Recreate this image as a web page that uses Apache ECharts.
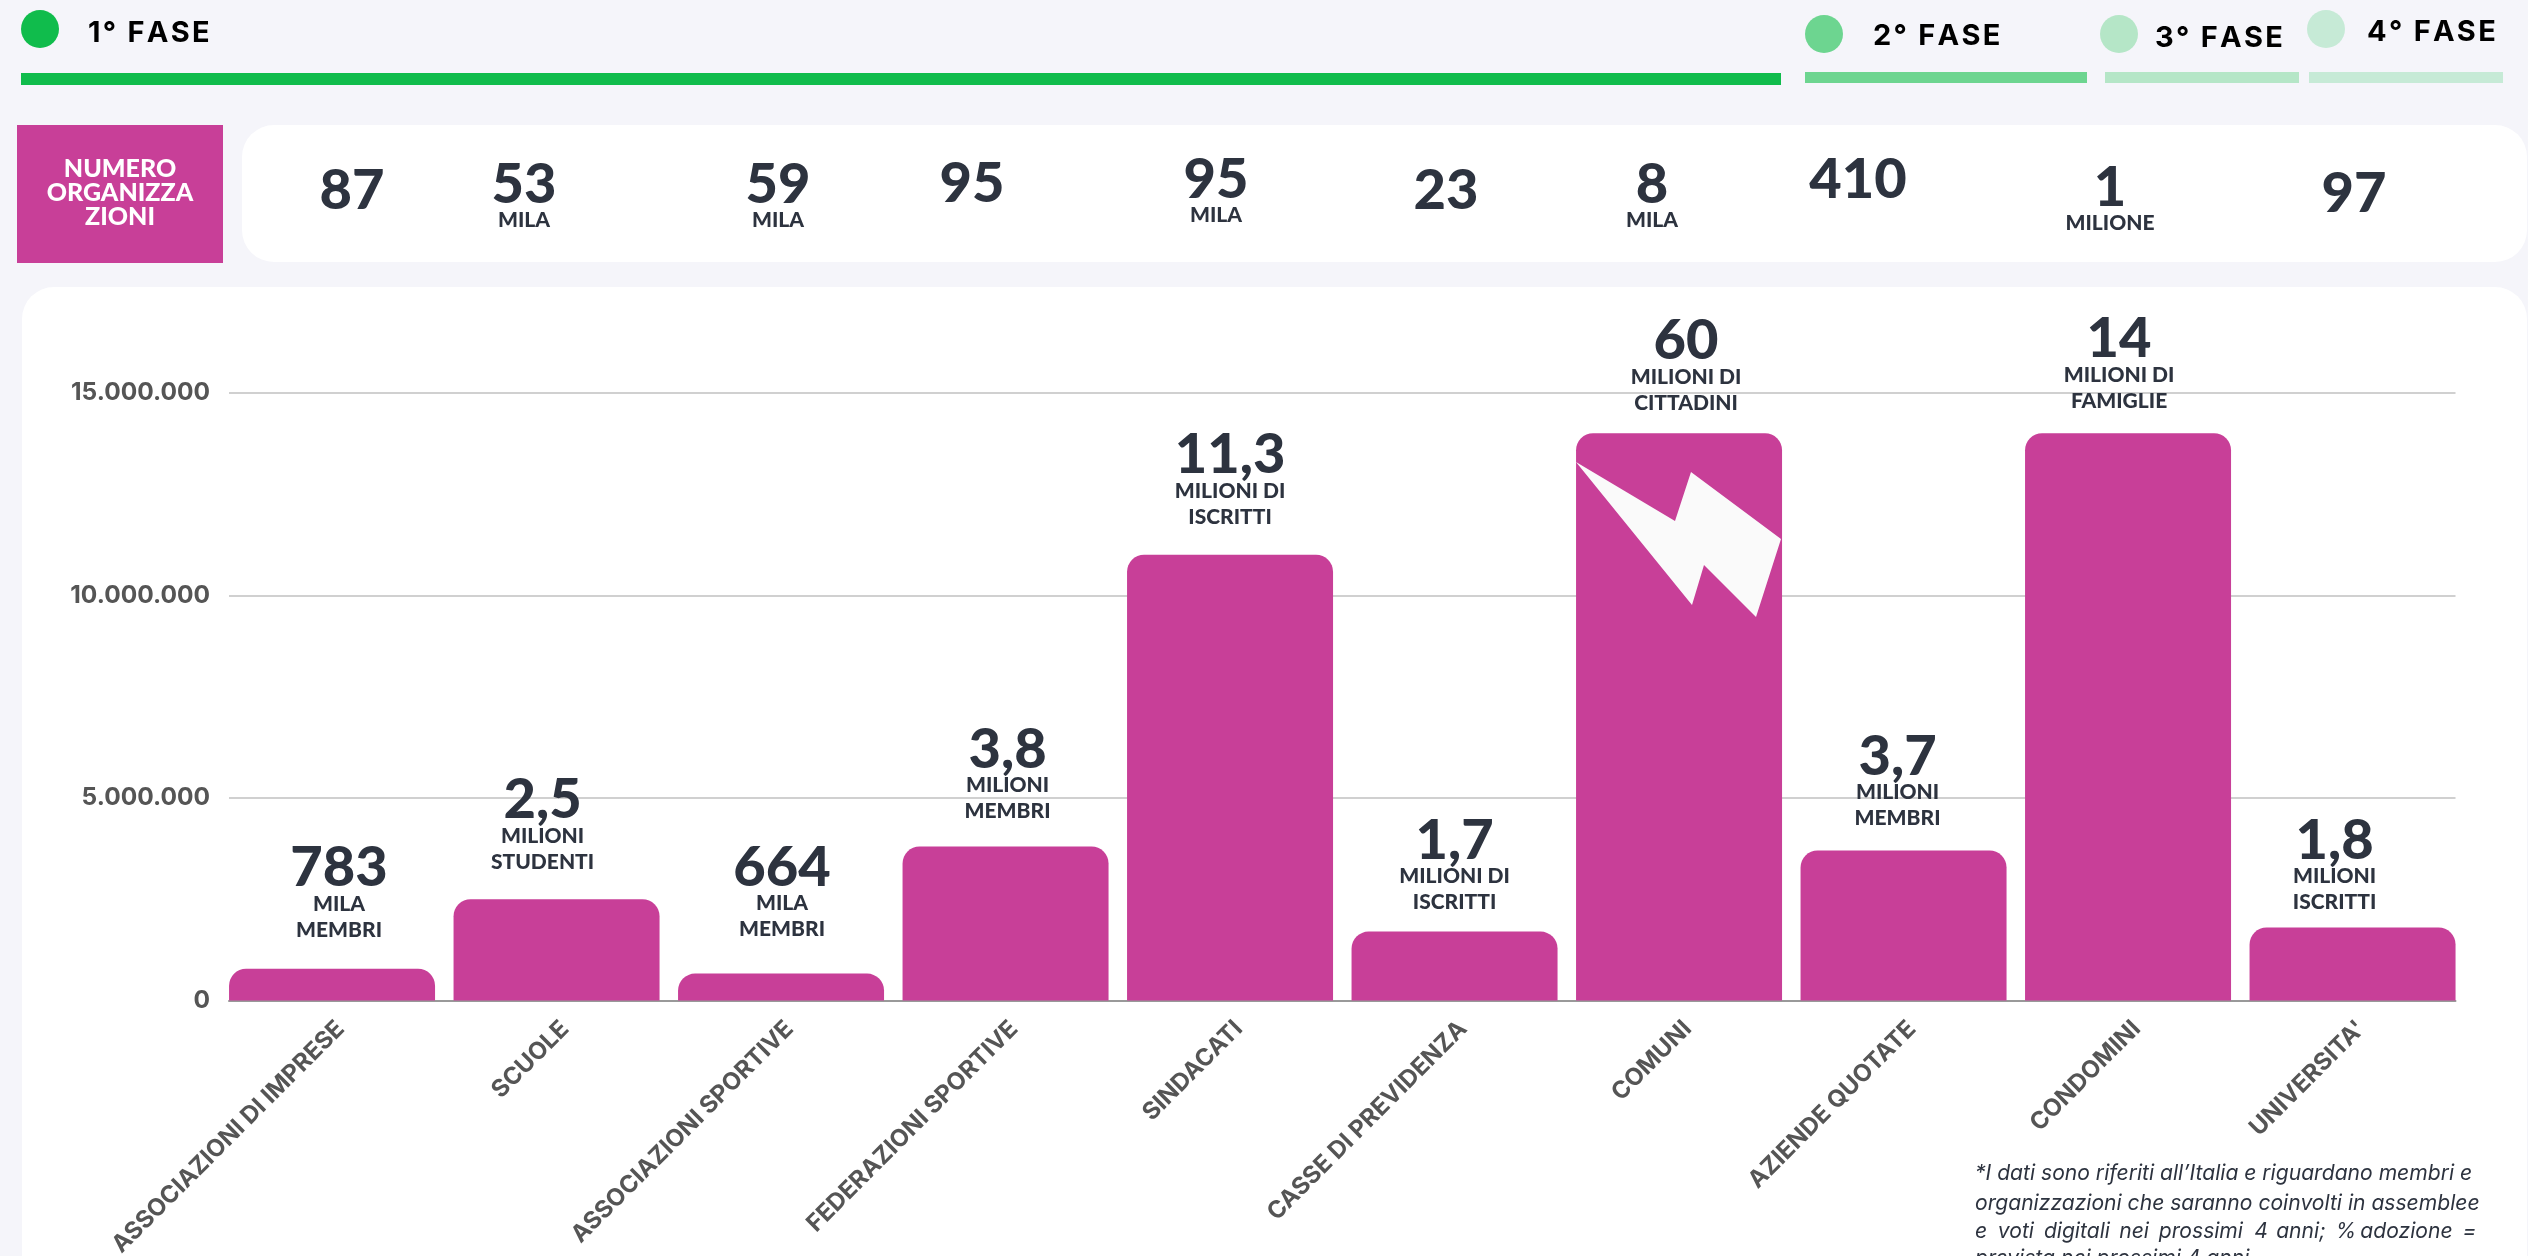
<!DOCTYPE html>
<html>
<head>
<meta charset="utf-8">
<style>
	html, body { margin: 0; padding: 0; background: #f5f5fa; overflow: hidden; }
	#chart { width: 2528px; height: 1256px; }
</style>
<script src="https://cdn.jsdelivr.net/npm/echarts@6/dist/echarts.min.js"></script>
</head>
<body>
<div id="chart"></div>
<script>
const categories = ['ASSOCIAZIONI DI IMPRESE', 'SCUOLE', 'ASSOCIAZIONI SPORTIVE', 'FEDERAZIONI SPORTIVE', 'SINDACATI', 'CASSE DI PREVIDENZA', 'COMUNI', 'AZIENDE QUOTATE', 'CONDOMINI', "UNIVERSITA'"]
const members = [783000, 2500000, 664000, 3800000, 11000000, 1700000, 14000000, 3700000, 14000000, 1800000]
const memberNumbers = ['783', '2,5', '664', '3,8', '11,3', '1,7', '60', '3,7', '14', '1,8']
const memberUnits = [['MILA', 'MEMBRI'], ['MILIONI', 'STUDENTI'], ['MILA', 'MEMBRI'], ['MILIONI', 'MEMBRI'], ['MILIONI DI', 'ISCRITTI'], ['MILIONI DI', 'ISCRITTI'], ['MILIONI DI', 'CITTADINI'], ['MILIONI', 'MEMBRI'], ['MILIONI DI', 'FAMIGLIE'], ['MILIONI', 'ISCRITTI']]
const orgNumbers = ['87', '53', '59', '95', '95', '23', '8', '410', '1', '97']
const orgUnits = ['', 'MILA', 'MILA', '', 'MILA', '', 'MILA', '', 'MILIONE', '']
const phases = ['1° FASE', '2° FASE', '3° FASE', '4° FASE']
const orgTitle = ['NUMERO', 'ORGANIZZA', 'ZIONI']
const footnote = ['*I dati sono riferiti all’Italia e riguardano membri e', 'organizzazioni che saranno coinvolti in assemblee', 'e voti digitali nei prossimi 4 anni; % adozione =', 'prevista nei prossimi 4 anni']

// layout
const labelOffsets = [[7, -26], [-14, -24], [1, -31], [2, -22], [0, -25], [0, -16], [7, -17], [-6, -19], [-9, -19], [-18, -12]]
const phaseLayout = [
	{ color: '#10bc4c', dot: [40, 29], text: [88, 33], bar: [21, 73, 1760, 12] },
	{ color: '#6dd590', dot: [1824, 34], text: [1873, 36], bar: [1805, 72, 282, 11] },
	{ color: '#b5e6c7', dot: [2119, 34], text: [2155, 38], bar: [2105, 72, 194, 11] },
	{ color: '#c6ead6', dot: [2326, 29], text: [2367, 32], bar: [2309, 72, 194, 11] },
]
const orgLayout = [[352, 191], [524, 185], [778, 185], [972, 184], [1216, 180], [1446, 191], [1652, 185], [1858, 180], [2110, 188], [2354, 194]]
const footnoteY = [1174, 1204, 1232, 1259]
const footnoteLine3X = [0, 57, 172, 360, 459, 697, 752, 900, 962, 1217].map(v => 1975 + v / 2.497)

const PINK = '#c83f98'
const DARK = '#2d333f'
const HEAD_FONT = 'Lato'
const AXIS_FONT = 'Inter'

const text = (x, y, str, size, color, weight, align, extra) => ({
	type: 'text',
	z: 20,
	style: Object.assign({ x, y, text: str, fontFamily: HEAD_FONT, fontSize: size, fontWeight: weight, fill: color, align: align || 'center', verticalAlign: 'middle' }, extra),
})
// the phase titles are tracked out a little
const spaced = str => str.split('').join('\u200a')

const graphics = [
	{ type: 'rect', z: -10, shape: { x: 242, y: 125, width: 2285, height: 137, r: 32 }, style: { fill: '#fff' } },
	{ type: 'rect', z: -10, shape: { x: 22, y: 287, width: 2505, height: 1100, r: 32 }, style: { fill: '#fff' } },
	{ type: 'rect', z: 1, shape: { x: 17, y: 125, width: 206, height: 138 }, style: { fill: PINK } },
	{ type: 'polygon', z: 50, shape: { points: [[1576, 462], [1675, 521], [1691, 472], [1781, 539], [1756, 617], [1704, 565], [1692, 605]] }, style: { fill: '#fafafa' } },
]
phases.forEach((name, i) => {
	const p = phaseLayout[i]
	graphics.push({ type: 'circle', z: 1, shape: { cx: p.dot[0], cy: p.dot[1], r: 19 }, style: { fill: p.color } })
	graphics.push({ type: 'rect', z: 1, shape: { x: p.bar[0], y: p.bar[1], width: p.bar[2], height: p.bar[3] }, style: { fill: p.color } })
	graphics.push(text(p.text[0], p.text[1], spaced(name), 29, '#000', 700, 'left', { fontFamily: AXIS_FONT }))
})
orgTitle.forEach((line, i) => graphics.push(text(120, 169 + i * 24, line, 25, '#fff', 900)))
orgNumbers.forEach((num, i) => {
	const [x, y] = orgLayout[i]
	graphics.push(text(x, y, num, 56, DARK, 900))
	if (orgUnits[i]) graphics.push(text(x, y + 35, orgUnits[i], 21, DARK, 900))
})
footnote.forEach((line, i) => {
	if (i === 2) {
		line.split(' ').forEach((word, j) => graphics.push(text(footnoteLine3X[j], footnoteY[i], word, 21.1, DARK, 400, 'left', { fontFamily: AXIS_FONT, fontStyle: 'italic' })))
	} else {
		graphics.push(text(1975, footnoteY[i], line, 21.1, DARK, 400, 'left', { fontFamily: AXIS_FONT, fontStyle: 'italic' }))
	}
})

const chart = echarts.init(document.getElementById('chart'), null, { renderer: 'canvas' })
chart.setOption({
	animation: false,
	backgroundColor: 'transparent',
	graphic: { elements: graphics },
	grid: [
		{ left: 229, width: 2226.5, top: 392.7, height: 607.8, outerBoundsMode: 'none' },
		{ left: 219.8, width: 2245, top: 392.7, height: 607.8, outerBoundsMode: 'none' },
	],
	xAxis: [
		{
			type: 'category', gridIndex: 0, data: categories,
			axisTick: { show: false }, axisLabel: { show: false },
			axisLine: { lineStyle: { color: '#999', width: 2 } },
		},
		{
			type: 'category', gridIndex: 1, data: categories,
			axisTick: { show: false }, axisLine: { show: false },
			axisLabel: { rotate: 45, interval: 0, margin: 16, verticalAlign: 'top', fontFamily: AXIS_FONT, fontSize: 24, fontWeight: 700, color: '#555' },
		},
	],
	yAxis: [
		{
			type: 'value', gridIndex: 0, min: 0, max: 15000000, interval: 5000000,
			axisLine: { show: false }, axisTick: { show: false },
			splitLine: { lineStyle: { color: '#d0d0d0', width: 2 } },
			axisLabel: {
				margin: 19, fontFamily: AXIS_FONT, fontSize: 24.5, fontWeight: 700, color: '#555',
				formatter: v => String(v).replace(/\B(?=(\d{3})+$)/g, '.'),
			},
		},
		{ type: 'value', gridIndex: 1, min: 0, max: 15000000, interval: 5000000, show: false },
	],
	series: [{
		type: 'bar',
		xAxisIndex: 1,
		yAxisIndex: 1,
		barWidth: 206,
		itemStyle: { color: PINK, borderRadius: [17, 17, 0, 0] },
		data: members.map((value, i) => ({
			value,
			label: {
				show: true, position: 'top', distance: 0, offset: labelOffsets[i],
				formatter: `{num|${memberNumbers[i]}}\n{unit|${memberUnits[i][0]}}\n{unit|${memberUnits[i][1]}}`,
				rich: {
					num: { fontFamily: HEAD_FONT, fontSize: 56, fontWeight: 900, color: DARK, lineHeight: 46, align: 'center' },
					unit: { fontFamily: HEAD_FONT, fontSize: 21, fontWeight: 900, color: DARK, lineHeight: 26, align: 'center' },
				},
			},
		})),
	}],
})
window.addEventListener('resize', () => chart.resize())
</script>
</body>
</html>
